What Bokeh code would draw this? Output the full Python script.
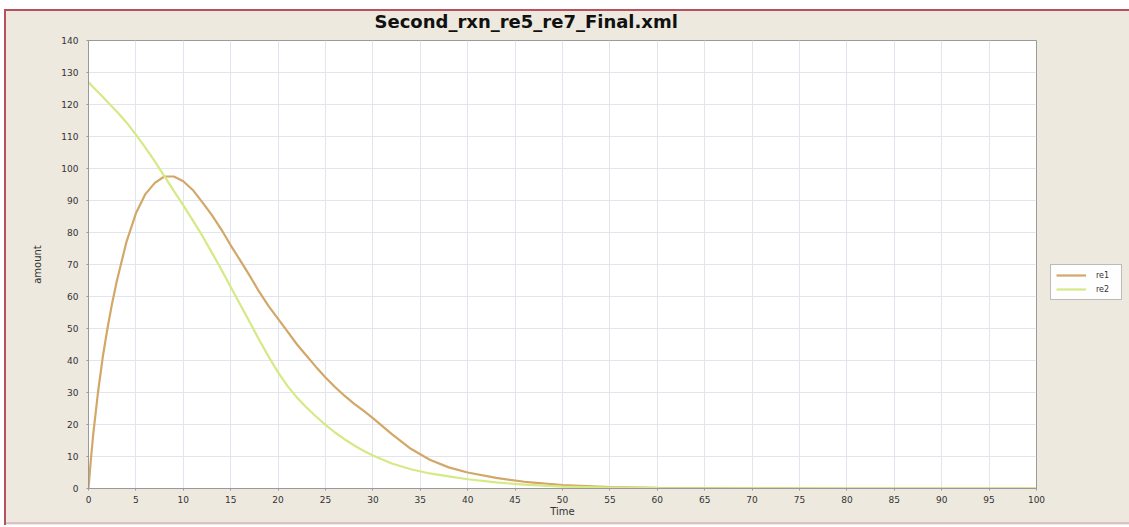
from bokeh.plotting import figure
from bokeh.models import Legend, LegendItem, FixedTicker
from bokeh.layouts import column
from bokeh.embed import file_html
from bokeh.resources import INLINE

time = [0, 0.25, 0.5, 1, 1.5, 2, 2.5, 3, 3.5, 4, 5, 6, 7, 8, 9, 10, 11, 12, 13, 14, 15, 16, 17,
        18, 19, 20, 21, 22, 23, 24, 25, 26, 27, 28, 29, 30, 32, 34, 36, 38, 40, 43, 46, 50, 55,
        60, 70, 80, 90, 100]
re1 = [0, 9, 17, 30, 41, 50, 58, 65, 71, 77, 86, 92, 95.5, 97.5, 97.5, 96, 93.3, 89.5, 85.5, 81,
       76, 71.3, 66.5, 61.5, 57, 53, 49, 45, 41.5, 38, 34.7, 31.7, 29, 26.5, 24.3, 22, 17, 12.4,
       9, 6.6, 5, 3.3, 2.1, 1.1, 0.45, 0.2, 0.04, 0, 0, 0]
re2 = [127, 126.2, 125.4, 123.9, 122.4, 120.8, 119.3, 117.7, 116.1, 114.4, 110.6, 106.5, 102.2,
       97.6, 93, 88.5, 83.8, 79, 73.8, 68.5, 63, 57.5, 52, 46.5, 41.2, 36.3, 32, 28.4, 25.3, 22.5,
       19.9, 17.5, 15.4, 13.5, 11.8, 10.3, 7.8, 6, 4.7, 3.8, 2.9, 1.9, 1.2, 0.6, 0.25, 0.1,
       0.02, 0, 0, 0]
x_ticks = list(range(0, 101, 5))
y_ticks = list(range(0, 141, 10))
series_names = ["re1", "re2"]

p = figure(frame_width=948, frame_height=448, x_range=(0, 100), y_range=(0, 140),
           output_backend="svg", toolbar_location=None,
           min_border_left=88, min_border_right=91, min_border_top=40, min_border_bottom=37,
           title="Second_rxn_re5_re7_Final.xml")
p.border_fill_alpha = 0
p.background_fill_color = "white"
p.outline_line_color = "#9a9a9a"
p.title.align = "left"
p.title.offset = 286
p.title.text_font = "DejaVu Sans"
p.title.text_font_style = "bold"
p.title.text_font_size = "18px"
p.title.text_color = "#111111"
p.title.standoff = 17

for ax in (p.xaxis[0], p.yaxis[0]):
    ax.major_label_text_font = "DejaVu Sans"
    ax.major_label_text_font_size = "9px"
    ax.major_label_text_color = "#333333"
    ax.axis_label_text_font = "DejaVu Sans"
    ax.axis_label_text_font_size = "10px"
    ax.axis_label_text_font_style = "normal"
    ax.axis_label_text_color = "#333333"
    ax.axis_line_color = "#999999"
    ax.major_tick_line_color = "#999999"
    ax.major_tick_in = 0
    ax.major_tick_out = 2
    ax.minor_tick_line_color = None
p.xaxis.ticker = FixedTicker(ticks=x_ticks)
p.yaxis.ticker = FixedTicker(ticks=y_ticks)
p.xaxis.axis_label = "Time"
p.yaxis.axis_label = "amount"
p.xaxis.major_label_standoff = 5
p.yaxis.major_label_standoff = 8
p.xaxis.axis_label_standoff = 0
p.yaxis.axis_label_standoff = 15

p.xgrid.grid_line_color = "#e3e5ee"
p.ygrid.grid_line_color = "#e3e5ee"
p.xgrid.ticker = FixedTicker(ticks=x_ticks)
p.ygrid.ticker = FixedTicker(ticks=y_ticks)

r1 = p.line(time, re1, line_color="#d3a768", line_width=2.2)
r2 = p.line(time, re2, line_color="#d5e984", line_width=2.2)

legend = Legend(items=[LegendItem(label=series_names[0], renderers=[r1]),
                       LegendItem(label=series_names[1], renderers=[r2])],
                location=(14, 188))
legend.label_text_font = "DejaVu Sans"
legend.label_text_font_size = "8px"
legend.label_text_color = "#333333"
legend.glyph_width = 30
legend.glyph_height = 10
legend.label_height = 10
legend.spacing = 4
legend.padding = 5
legend.margin = 0
legend.border_line_color = "#777777"
legend.background_fill_color = "white"
legend.label_standoff = 10
p.add_layout(legend, "right")

RED = "#b8505e"
bg = ", ".join([
    f"linear-gradient({RED},{RED}) 4px 9px / 2px 520px no-repeat",
    f"linear-gradient({RED},{RED}) 4px 9px / 1140px 2px no-repeat",
    "linear-gradient(#dcc3c3,#dcc3c3) 4px 522px / 1140px 2px no-repeat",
    "linear-gradient(#ede9de,#ede9de) 4px 9px / 1140px 520px no-repeat",
    "#ffffff",
])
lay = column(p, styles={"background": bg})
open("out.html", "w").write(file_html(lay, INLINE))
